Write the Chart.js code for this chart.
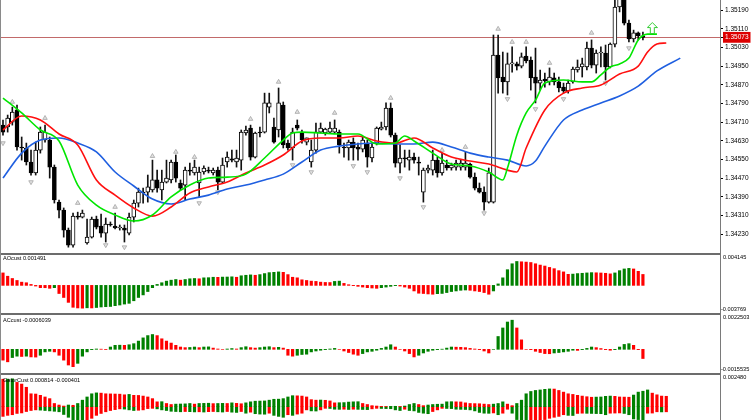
<!DOCTYPE html>
<html lang="en">
<head>
    <meta charset="UTF-8">
    <title>Alligator with AO, AC and Gator</title>
    <script src="https://cdn.jsdelivr.net/npm/chart.js"></script>
    <style>
        body { margin: 0; width: 752px; height: 420px; overflow: hidden; background: #fff; position: relative; font-family: 'Liberation Sans', Arial, sans-serif; }
        canvas { position: absolute; left: 0; }
        .rule { position: absolute; background: #6c6c6c; }
        .txt { position: absolute; font-size: 5.6px; line-height: 7px; color: #000; white-space: nowrap; }
    </style>
</head>
<body>
    <canvas id="main" width="752" height="253" style="top:0"></canvas>
    <canvas id="ao" width="752" height="58" style="top:255px"></canvas>
    <canvas id="ac" width="752" height="58" style="top:315px"></canvas>
    <canvas id="gator" width="752" height="64" style="top:375px"></canvas>

    <div class="rule" style="left:0;top:253px;width:721px;height:2px"></div>
    <div class="rule" style="left:0;top:313px;width:721px;height:2px"></div>
    <div class="rule" style="left:0;top:373px;width:721px;height:2px"></div>
    <div class="rule" style="left:0;top:0;width:1px;height:420px;background:#8a8a8a"></div>
    <div class="rule" style="left:720px;top:0;width:1px;height:420px;background:#7a7a7a"></div>

    <div class="txt" id="aoTitle" style="left:3px;top:255px"></div>
    <div class="txt" id="acTitle" style="left:3px;top:316.5px"></div>
    <div class="txt" id="gatorTitle" style="left:3px;top:376.5px"></div>
    <div class="txt" id="aoTop" style="left:723px;top:253.5px"></div>
    <div class="txt" id="aoBottom" style="left:721px;top:306px"></div>
    <div class="txt" id="acTop" style="left:723px;top:314px"></div>
    <div class="txt" id="acBottom" style="left:721px;top:366px"></div>
    <div class="txt" id="gatorTop" style="left:723px;top:374px"></div>

    <script>
        // price candles, one entry per bar (bar 0 is the leftmost)
        const openP = [1.34697,1.34689,1.34710,1.34762,1.34603,1.34599,1.34539,1.34492,1.34590,1.34633,
            1.34633,1.34517,1.34367,1.34333,1.34247,1.34183,1.34307,1.34303,1.34192,1.34217,
            1.34294,1.34264,1.34234,1.34273,1.34264,1.34256,1.34256,1.34234,1.34303,1.34363,
            1.34410,1.34410,1.34419,1.34462,1.34419,1.34453,1.34462,1.34539,1.34449,1.34440,
            1.34504,1.34492,1.34449,1.34496,1.34504,1.34492,1.34504,1.34453,1.34539,1.34552,
            1.34539,1.34547,1.34663,1.34684,1.34560,1.34667,1.34667,1.34774,1.34689,1.34676,
            1.34783,1.34620,1.34599,1.34697,1.34663,1.34624,1.34539,1.34590,1.34667,1.34663,
            1.34667,1.34667,1.34667,1.34603,1.34599,1.34624,1.34603,1.34594,1.34620,1.34556,
            1.34620,1.34680,1.34689,1.34770,1.34654,1.34534,1.34556,1.34547,1.34560,1.34539,
            1.34410,1.34504,1.34504,1.34547,1.34492,1.34526,1.34513,1.34517,1.34517,1.34517,
            1.34530,1.34474,1.34427,1.34410,1.34367,1.34367,1.34997,1.34903,1.34882,1.34959,
            1.34959,1.34950,1.34993,1.34976,1.34903,1.34877,1.34894,1.34882,1.34899,1.34882,
            1.34860,1.34843,1.34882,1.34933,1.34946,1.34946,1.35027,1.34954,1.35006,1.35006,
            1.34946,1.35044,1.35203,1.35254,1.35134,1.35066,1.35092,1.35079];
        const highP = [1.34719,1.34740,1.34774,1.34783,1.34646,1.34620,1.34590,1.34624,1.34689,1.34697,
            1.34646,1.34526,1.34376,1.34342,1.34256,1.34320,1.34324,1.34333,1.34294,1.34303,
            1.34307,1.34316,1.34299,1.34282,1.34320,1.34269,1.34269,1.34320,1.34376,1.34427,
            1.34427,1.34483,1.34547,1.34504,1.34504,1.34547,1.34547,1.34569,1.34462,1.34517,
            1.34534,1.34547,1.34517,1.34522,1.34517,1.34513,1.34517,1.34556,1.34582,1.34590,
            1.34590,1.34676,1.34693,1.34697,1.34667,1.34689,1.34834,1.34834,1.34727,1.34856,
            1.34796,1.34633,1.34684,1.34719,1.34676,1.34642,1.34633,1.34706,1.34706,1.34684,
            1.34710,1.34719,1.34676,1.34620,1.34633,1.34642,1.34620,1.34646,1.34633,1.34620,
            1.34689,1.34710,1.34792,1.34792,1.34663,1.34612,1.34590,1.34590,1.34577,1.34560,
            1.34513,1.34526,1.34590,1.34560,1.34577,1.34547,1.34534,1.34547,1.34547,1.34582,
            1.34534,1.34492,1.34449,1.34432,1.34513,1.35083,1.35083,1.35010,1.35006,1.35032,
            1.34967,1.35006,1.35032,1.34989,1.35027,1.34933,1.34920,1.34942,1.34920,1.34903,
            1.34877,1.34890,1.34946,1.34976,1.34984,1.35053,1.35062,1.35019,1.35032,1.35040,
            1.35049,1.35233,1.35297,1.35276,1.35147,1.35104,1.35096,1.35096];
        const lowP = [1.34654,1.34667,1.34697,1.34590,1.34547,1.34526,1.34483,1.34483,1.34577,1.34624,
            1.34470,1.34363,1.34299,1.34217,1.34174,1.34174,1.34294,1.34299,1.34187,1.34213,
            1.34252,1.34217,1.34196,1.34264,1.34252,1.34247,1.34196,1.34226,1.34282,1.34346,
            1.34363,1.34367,1.34410,1.34410,1.34376,1.34449,1.34449,1.34453,1.34419,1.34376,
            1.34483,1.34483,1.34389,1.34487,1.34492,1.34483,1.34419,1.34449,1.34517,1.34539,
            1.34517,1.34504,1.34654,1.34547,1.34556,1.34646,1.34663,1.34749,1.34620,1.34646,
            1.34599,1.34590,1.34547,1.34676,1.34620,1.34612,1.34517,1.34577,1.34663,1.34654,
            1.34663,1.34663,1.34577,1.34560,1.34547,1.34547,1.34547,1.34582,1.34517,1.34539,
            1.34612,1.34676,1.34676,1.34646,1.34517,1.34492,1.34517,1.34504,1.34534,1.34483,
            1.34367,1.34492,1.34483,1.34474,1.34483,1.34504,1.34504,1.34504,1.34504,1.34504,
            1.34470,1.34419,1.34406,1.34333,1.34363,1.34363,1.34834,1.34834,1.34826,1.34924,
            1.34933,1.34942,1.34963,1.34847,1.34792,1.34847,1.34860,1.34869,1.34869,1.34839,
            1.34834,1.34834,1.34877,1.34924,1.34903,1.34933,1.34942,1.34920,1.34946,1.34890,
            1.34942,1.35032,1.35182,1.35126,1.35053,1.35053,1.35062,1.35062];
        const closeP = [1.34667,1.34727,1.34753,1.34603,1.34599,1.34539,1.34492,1.34590,1.34667,1.34667,
            1.34517,1.34376,1.34333,1.34247,1.34183,1.34307,1.34303,1.34320,1.34217,1.34294,
            1.34260,1.34234,1.34273,1.34269,1.34256,1.34260,1.34247,1.34303,1.34363,1.34410,
            1.34406,1.34432,1.34462,1.34427,1.34453,1.34470,1.34539,1.34470,1.34427,1.34504,
            1.34500,1.34517,1.34496,1.34513,1.34500,1.34504,1.34453,1.34526,1.34560,1.34547,
            1.34556,1.34667,1.34676,1.34560,1.34663,1.34663,1.34792,1.34792,1.34624,1.34792,
            1.34612,1.34599,1.34667,1.34684,1.34633,1.34642,1.34590,1.34667,1.34684,1.34680,
            1.34684,1.34684,1.34612,1.34599,1.34624,1.34599,1.34594,1.34633,1.34560,1.34603,
            1.34684,1.34689,1.34770,1.34654,1.34534,1.34556,1.34552,1.34560,1.34547,1.34534,
            1.34504,1.34513,1.34547,1.34492,1.34534,1.34513,1.34526,1.34534,1.34534,1.34534,
            1.34474,1.34427,1.34410,1.34367,1.34492,1.34997,1.34899,1.34882,1.34959,1.34963,
            1.34950,1.34989,1.34972,1.34899,1.34877,1.34890,1.34886,1.34903,1.34882,1.34856,
            1.34843,1.34877,1.34937,1.34946,1.34959,1.35027,1.34954,1.35006,1.35010,1.34946,
            1.35044,1.35203,1.35267,1.35134,1.35066,1.35092,1.35079,1.35073];

        // Alligator lines, read at these bar positions
        const lipsBar = [0,4,8,12,16,20,24,28,32,36,40,44,48,52,56,60,62,64,68,72,76,80,84,86,88,92,96,100,104,107,108,110,112,114,116,120,124,126,128,130,132,134,136,138,140];
        const lipsPrice = [1.34813,1.34749,1.34676,1.34629,1.34440,1.34354,1.34312,1.34286,1.34312,1.34389,
            1.34440,1.34470,1.34474,1.34487,1.34556,1.34633,1.34663,1.34667,1.34663,1.34659,
            1.34659,1.34616,1.34620,1.34650,1.34629,1.34577,1.34530,1.34522,1.34496,1.34462,
            1.34513,1.34654,1.34749,1.34804,1.34877,1.34890,1.34882,1.34882,1.34912,1.34946,
            1.34959,1.34984,1.35062,1.35087,1.35087];
        const teethBar = [0,4,8,12,16,20,24,28,32,36,40,44,48,52,56,60,64,68,72,76,80,84,88,92,96,100,104,108,110,112,116,120,124,128,132,136,138,140,142];
        const teethPrice = [1.34676,1.34736,1.34719,1.34659,1.34612,1.34462,1.34397,1.34342,1.34307,1.34346,
            1.34406,1.34432,1.34453,1.34492,1.34526,1.34569,1.34629,1.34642,1.34642,1.34650,
            1.34629,1.34620,1.34642,1.34599,1.34560,1.34543,1.34530,1.34504,1.34496,1.34599,
            1.34762,1.34834,1.34856,1.34869,1.34916,1.34950,1.35010,1.35044,1.35049];
        const jawBar = [0,4,8,12,16,20,24,28,32,36,40,44,48,52,56,60,64,68,72,76,80,84,88,92,96,100,104,108,112,114,116,120,124,128,132,136,140,145];
        const jawPrice = [1.34470,1.34577,1.34633,1.34642,1.34620,1.34582,1.34496,1.34436,1.34380,1.34359,
            1.34380,1.34397,1.34423,1.34440,1.34462,1.34487,1.34539,1.34590,1.34607,1.34616,
            1.34620,1.34616,1.34616,1.34624,1.34603,1.34577,1.34560,1.34547,1.34522,1.34543,
            1.34607,1.34719,1.34762,1.34792,1.34822,1.34864,1.34929,1.34984];

        // fractal arrows
        const upFractalBar = [2,9,16,24,32,37,41,53,59,63,71,83,94,99,106,109,112,117,126];
        const upFractalPrice = [1.34796,1.34727,1.34363,1.34346,1.34564,1.34582,1.34560,1.34723,1.34882,1.34753,
            1.34749,1.34813,1.34590,1.34603,1.35109,1.35053,1.35053,1.34963,1.35092];
        const downFractalBar = [0,6,22,26,42,46,62,66,75,78,85,90,103,108,114,120,129,134];
        const downFractalPrice = [1.34620,1.34453,1.34183,1.34174,1.34363,1.34410,1.34526,1.34496,1.34522,1.34496,
            1.34470,1.34346,1.34320,1.34809,1.34766,1.34809,1.34877,1.35027];

        // buy signal arrow
        const signalBar = [139];
        const signalPrice = [1.35113];

        const priceTicks = [1.35190,1.35110,1.35030,1.34950,1.34870,1.34790,1.34710,1.34630,1.34550,1.34470,1.34390,1.34310,1.34230];
        const lastPrice = 1.35073;

        const aoValues = [0.00170,0.00125,0.00094,0.00067,0.00044,0.00036,0.00013,-0.00009,-0.00031,-0.00032,
            -0.00040,-0.00031,-0.00111,-0.00165,-0.00232,-0.00299,-0.00308,-0.00311,-0.00306,-0.00308,
            -0.00302,-0.00295,-0.00291,-0.00288,-0.00277,-0.00268,-0.00255,-0.00245,-0.00210,-0.00165,
            -0.00130,-0.00084,-0.00031,0.00013,0.00036,0.00058,0.00071,0.00080,0.00071,0.00080,
            0.00090,0.00094,0.00090,0.00103,0.00105,0.00111,0.00110,0.00113,0.00114,0.00117,
            0.00111,0.00131,0.00138,0.00143,0.00138,0.00147,0.00161,0.00174,0.00178,0.00184,
            0.00178,0.00147,0.00111,0.00103,0.00076,0.00067,0.00058,0.00054,0.00044,0.00040,
            0.00039,0.00054,0.00058,0.00027,0.00009,-0.00004,-0.00013,-0.00023,-0.00031,-0.00036,
            -0.00040,-0.00031,-0.00023,-0.00013,-0.00004,-0.00009,-0.00023,-0.00040,-0.00076,-0.00107,
            -0.00111,-0.00117,-0.00121,-0.00113,-0.00110,-0.00098,-0.00084,-0.00076,-0.00067,-0.00063,
            -0.00067,-0.00076,-0.00084,-0.00098,-0.00121,-0.00076,0.00020,0.00103,0.00214,0.00295,
            0.00326,0.00322,0.00318,0.00312,0.00295,0.00277,0.00264,0.00245,0.00228,0.00201,
            0.00184,0.00151,0.00154,0.00161,0.00165,0.00170,0.00174,0.00172,0.00169,0.00165,
            0.00157,0.00170,0.00201,0.00224,0.00232,0.00224,0.00192,0.001491];
        const aoRange = [-0.003769, 0.004145];

        const acValues = [-0.00071,-0.00082,-0.00054,-0.00045,-0.00047,-0.00045,-0.00050,-0.00051,-0.00039,-0.00017,
            -0.00013,-0.00017,-0.00039,-0.00071,-0.00103,-0.00114,-0.00092,-0.00045,-0.00017,-0.00002,
            0.00002,0.00001,-0.00001,0.00015,0.00026,0.00027,0.00026,0.00030,0.00037,0.00054,
            0.00075,0.00090,0.00097,0.00090,0.00069,0.00054,0.00041,0.00026,0.00015,0.00011,
            0.00012,0.00015,0.00011,0.00015,0.00016,0.00008,0.00002,0.00000,0.00002,0.00005,
            0.00002,0.00011,0.00017,0.00011,0.00008,0.00011,0.00015,0.00017,0.00011,0.00013,
            0.00008,-0.00039,-0.00045,-0.00039,-0.00034,-0.00032,-0.00017,-0.00011,-0.00006,-0.00002,
            0.00002,0.00006,0.00000,-0.00011,-0.00021,-0.00032,-0.00039,-0.00028,-0.00017,-0.00013,
            -0.00006,0.00006,0.00015,0.00030,0.00015,0.00000,-0.00011,-0.00028,-0.00050,-0.00039,
            -0.00024,-0.00013,-0.00006,-0.00002,0.00001,0.00008,0.00015,0.00014,0.00013,0.00011,
            0.00006,0.00002,-0.00002,-0.00011,-0.00024,0.00000,0.00084,0.00140,0.00179,0.00191,
            0.00140,0.00062,0.00000,-0.00002,-0.00013,-0.00021,-0.00028,-0.00029,-0.00024,-0.00021,
            -0.00017,-0.00013,-0.00006,-0.00007,-0.00002,0.00006,0.00015,0.00011,0.00005,-0.00002,
            -0.00006,-0.00002,0.00015,0.00032,0.00037,0.00026,-0.00002,-0.0006039];
        const acRange = [-0.0015535, 0.0022503];

        const gatorUpper = [0.00215,0.00216,0.00218,0.00190,0.00177,0.00152,0.00101,0.00099,0.00089,0.00076,
            0.00063,0.00025,0.00013,0.00005,0.00013,0.00011,0.00025,0.00051,0.00076,0.00101,
            0.00108,0.00106,0.00101,0.00100,0.00099,0.00098,0.00093,0.00096,0.00089,0.00088,
            0.00083,0.00076,0.00063,0.00038,0.00039,0.00025,0.00017,0.00020,0.00021,0.00022,
            0.00025,0.00020,0.00025,0.00026,0.00027,0.00024,0.00025,0.00026,0.00025,0.00030,
            0.00026,0.00023,0.00030,0.00038,0.00043,0.00044,0.00045,0.00051,0.00058,0.00059,
            0.00063,0.00076,0.00086,0.00085,0.00083,0.00076,0.00055,0.00051,0.00052,0.00050,
            0.00045,0.00030,0.00031,0.00032,0.00036,0.00038,0.00039,0.00025,0.00017,0.00008,
            0.00005,0.00002,0.00001,0.00002,0.00003,0.00001,0.00005,0.00017,0.00025,0.00017,
            0.00008,0.00013,0.00017,0.00019,0.00020,0.00038,0.00039,0.00038,0.00037,0.00030,
            0.00025,0.00024,0.00023,0.00020,0.00017,0.00020,0.00025,0.00038,0.00020,0.00008,
            0.00025,0.00051,0.00101,0.00119,0.00127,0.00131,0.00136,0.00139,0.00138,0.00127,
            0.00114,0.00101,0.00096,0.00089,0.00083,0.00078,0.00074,0.00075,0.00076,0.00081,
            0.00083,0.00081,0.00076,0.00075,0.00074,0.00091,0.00114,0.00121,0.00131,0.00106,
            0.00093,0.00083,0.000814];
        const gatorLower = [-0.00076,-0.00068,-0.00063,-0.00053,-0.00049,-0.00038,-0.00030,-0.00025,-0.00027,-0.00030,
            -0.00033,-0.00036,-0.00040,-0.00061,-0.00083,-0.00102,-0.00114,-0.00117,-0.00106,-0.00091,
            -0.00068,-0.00053,-0.00040,-0.00030,-0.00023,-0.00017,-0.00019,-0.00025,-0.00030,-0.00028,
            -0.00025,-0.00015,-0.00013,-0.00017,-0.00025,-0.00030,-0.00036,-0.00038,-0.00040,-0.00038,
            -0.00039,-0.00041,-0.00040,-0.00042,-0.00039,-0.00038,-0.00040,-0.00042,-0.00038,-0.00043,
            -0.00045,-0.00038,-0.00051,-0.00043,-0.00055,-0.00058,-0.00059,-0.00051,-0.00068,-0.00076,
            -0.00083,-0.00063,-0.00068,-0.00058,-0.00051,-0.00025,-0.00033,-0.00034,-0.00025,-0.00013,
            -0.00014,-0.00020,-0.00021,-0.00020,-0.00022,-0.00020,-0.00021,-0.00022,-0.00023,-0.00017,
            -0.00013,-0.00014,-0.00015,-0.00016,-0.00025,-0.00030,-0.00020,-0.00030,-0.00033,-0.00045,
            -0.00051,-0.00055,-0.00038,-0.00025,-0.00013,-0.00014,-0.00015,-0.00020,-0.00021,-0.00022,
            -0.00025,-0.00033,-0.00045,-0.00051,-0.00052,-0.00049,-0.00063,-0.00051,-0.00020,-0.00051,
            -0.00101,-0.00106,-0.00114,-0.00110,-0.00106,-0.00102,-0.00101,-0.00091,-0.00083,-0.00076,
            -0.00063,-0.00068,-0.00069,-0.00053,-0.00051,-0.00052,-0.00053,-0.00054,-0.00055,-0.00063,
            -0.00051,-0.00050,-0.00049,-0.00053,-0.00063,-0.00096,-0.00101,-0.00106,-0.00051,-0.00050,
            -0.00040,-0.00041,-0.000401];
        const gatorRange = [-0.00253, 0.00248];

        const GREEN = '#008000', RED = '#ff0000';
        const xMin = -0.64, xMax = 153.5;

        // text in the sub windows
        document.getElementById('aoTitle').textContent = 'AOcust ' + aoValues[aoValues.length - 1];
        document.getElementById('acTitle').textContent = 'ACcust ' + acValues[acValues.length - 1];
        document.getElementById('gatorTitle').textContent = 'GatorCust ' + gatorUpper[gatorUpper.length - 1] + ' ' + gatorLower[gatorLower.length - 1];
        document.getElementById('aoTop').textContent = aoRange[1].toFixed(6);
        document.getElementById('aoBottom').textContent = aoRange[0].toFixed(6);
        document.getElementById('acTop').textContent = acRange[1].toFixed(7);
        document.getElementById('acBottom').textContent = acRange[0].toFixed(7);
        document.getElementById('gatorTop').textContent = gatorRange[1].toFixed(6);

        function points(xs, ys) {
            return xs.map((x, k) => ({ x: x, y: ys[k] }));
        }

        // green when the bar is above the previous one
        function risingColors(vals) {
            return vals.map((v, i) => (i > 0 && v > vals[i - 1]) ? GREEN : RED);
        }
        function widerColors(vals) {
            return vals.map((v, i) => (i > 0 && Math.abs(v) > Math.abs(vals[i - 1])) ? GREEN : RED);
        }

        function makeArrow() {
            const c = document.createElement('canvas');
            c.width = 11; c.height = 12;
            const g = c.getContext('2d');
            g.strokeStyle = '#33cc33';
            g.lineWidth = 1;
            g.beginPath();
            g.moveTo(5.5, 0.5); g.lineTo(10.5, 5.5); g.lineTo(7.5, 5.5); g.lineTo(7.5, 11.5);
            g.lineTo(3.5, 11.5); g.lineTo(3.5, 5.5); g.lineTo(0.5, 5.5); g.closePath();
            g.stroke();
            return c;
        }

        const common = {
            responsive: false,
            animation: false,
            events: [],
            layout: { padding: 0, autoPadding: false },
            plugins: { legend: { display: false }, tooltip: { enabled: false } }
        };

        function xAxis() {
            return { type: 'linear', min: xMin, max: xMax, display: false, offset: false };
        }

        // fixed 32px axis strip, no extra room for the labels
        function fixAxis(s) {
            s.width = 32;
            s.paddingTop = 0;
            s.paddingBottom = 0;
        }

        function sideAxis(range) {
            return {
                position: 'right', min: range[0], max: range[1],
                afterFit: fixAxis,
                ticks: { display: false },
                grid: { display: false },
                border: { display: false }
            };
        }

        const bars = openP.map((o, i) => i);

        new Chart(document.getElementById('main'), {
            type: 'bar',
            data: {
                datasets: [
                    { type: 'scatter', data: points(signalBar, signalPrice), pointStyle: makeArrow(), order: 0 },
                    { type: 'line', data: points(lipsBar, lipsPrice), borderColor: '#00e600', borderWidth: 1.6, pointRadius: 0, cubicInterpolationMode: 'monotone', order: 0 },
                    { type: 'line', data: points(teethBar, teethPrice), borderColor: '#ff1010', borderWidth: 1.6, pointRadius: 0, cubicInterpolationMode: 'monotone', order: 0 },
                    { type: 'line', data: points(jawBar, jawPrice), borderColor: '#1f5fe0', borderWidth: 1.6, pointRadius: 0, cubicInterpolationMode: 'monotone', order: 0 },
                    { type: 'scatter', data: points(upFractalBar, upFractalPrice), pointStyle: 'triangle', pointRadius: 2.6,
                      backgroundColor: '#e2e2e2', borderColor: '#a4a4a4', borderWidth: 0.8, order: 1 },
                    { type: 'scatter', data: points(downFractalBar, downFractalPrice), pointStyle: 'triangle', pointRadius: 2.6, rotation: 180,
                      backgroundColor: '#e2e2e2', borderColor: '#a4a4a4', borderWidth: 0.8, order: 1 },
                    { type: 'bar', data: bars.map(i => ({ x: i, y: [openP[i], closeP[i]] })),
                      backgroundColor: bars.map(i => closeP[i] > openP[i] ? '#ffffff' : '#000000'),
                      borderColor: '#000', borderWidth: 1, borderSkipped: false, barThickness: 4, minBarLength: 1, grouped: false, order: 2 },
                    { type: 'bar', data: bars.map(i => ({ x: i, y: [lowP[i], highP[i]] })),
                      backgroundColor: '#111', barThickness: 1, grouped: false, order: 3 }
                ]
            },
            options: {
                ...common,
                scales: {
                    x: xAxis(),
                    y: {
                        position: 'right', min: 1.34149, max: 1.35233,
                        afterFit: fixAxis,
                        afterBuildTicks: s => { s.ticks = priceTicks.concat([lastPrice]).map(v => ({ value: v })); },
                        border: { display: false },
                        grid: {
                            color: c => (c.tick && c.tick.value === lastPrice) ? '#c26a6a' : 'rgba(0,0,0,0)',
                            tickColor: '#000', tickLength: 3, lineWidth: 1
                        },
                        ticks: {
                            autoSkip: false, padding: 2,
                            font: { family: 'Liberation Sans', size: 6.5 },
                            color: c => c.tick.value === lastPrice ? '#fff' : '#000',
                            showLabelBackdrop: c => c.tick.value === lastPrice,
                            backdropColor: '#dd0000',
                            backdropPadding: { top: 1.5, bottom: 1.5, left: 2, right: 2 },
                            callback: v => v.toFixed(5)
                        }
                    }
                }
            }
        });

        new Chart(document.getElementById('ao'), {
            type: 'bar',
            data: { datasets: [{ data: points(bars, aoValues), backgroundColor: risingColors(aoValues), barThickness: 2.5 }] },
            options: { ...common, scales: { x: xAxis(), y: sideAxis(aoRange) } }
        });

        new Chart(document.getElementById('ac'), {
            type: 'bar',
            data: { datasets: [{ data: points(bars, acValues), backgroundColor: risingColors(acValues), barThickness: 2.5 }] },
            options: { ...common, scales: { x: xAxis(), y: sideAxis(acRange) } }
        });

        const gatorBars = gatorUpper.map((v, i) => i);
        new Chart(document.getElementById('gator'), {
            type: 'bar',
            data: {
                datasets: [
                    { data: points(gatorBars, gatorUpper), backgroundColor: widerColors(gatorUpper), barThickness: 2.5, grouped: false },
                    { data: points(gatorBars, gatorLower), backgroundColor: widerColors(gatorLower), barThickness: 2.5, grouped: false }
                ]
            },
            options: { ...common, scales: { x: xAxis(), y: sideAxis(gatorRange) } }
        });
    </script>
</body>
</html>
